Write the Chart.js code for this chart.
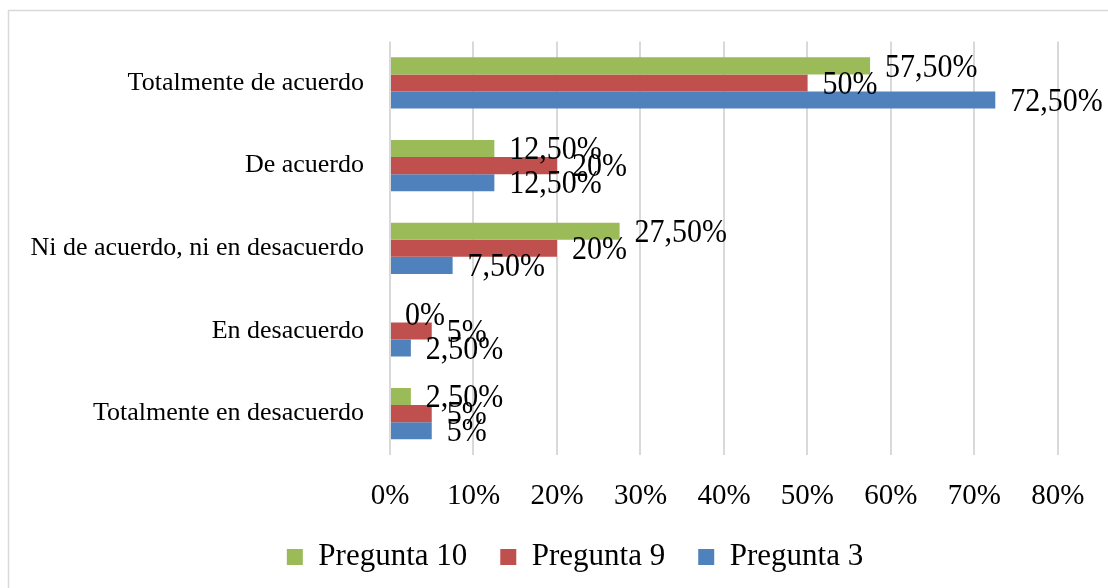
<!DOCTYPE html>
<html>
<head>
<meta charset="utf-8">
<script src="https://cdn.jsdelivr.net/npm/chart.js"></script>
<style>
  html, body { margin: 0; padding: 0; background: #fff; }
  #wrap { width: 1108px; height: 588px; position: relative; }
</style>
</head>
<body>
<div id="wrap"><canvas id="chart"></canvas></div>
<script>
const categories = ['Totalmente de acuerdo', 'De acuerdo', 'Ni de acuerdo, ni en desacuerdo', 'En desacuerdo', 'Totalmente en desacuerdo'];
const pregunta10 = [57.5, 12.5, 27.5, 0, 2.5];
const pregunta9 = [50, 20, 20, 5, 5];
const pregunta3 = [72.5, 12.5, 7.5, 2.5, 5];
const seriesNames = ['Pregunta 10', 'Pregunta 9', 'Pregunta 3'];
const xMax = 80;
const xStep = 10;

const serif = '"Liberation Serif", "Times New Roman", serif';

function fmt(v) {
    return (Number.isInteger(v) ? v : v.toFixed(2).replace('.', ',')) + '%';
}

// frame round the whole chart, legend nudged to the centre of the frame
const framePlugin = {
    id: 'frame',
    afterLayout(chart) {
        chart.legend.left += 45;
        chart.legend.right += 45;
    },
    beforeDraw(chart) {
        const c = chart.ctx;
        c.save();
        c.fillStyle = '#fff';
        c.fillRect(0, 0, chart.width, chart.height);
        c.strokeStyle = '#d9d9d9';
        c.lineWidth = 1.5;
        c.strokeRect(8.5, 10.5, 1200, 700);
        c.restore();
    }
};

// value labels at the end of each bar
const valueLabels = {
    id: 'valueLabels',
    afterDatasetsDraw(chart) {
        const c = chart.ctx;
        chart.data.datasets.forEach((ds, i) => {
            chart.getDatasetMeta(i).data.forEach((bar, j) => {
                c.save();
                c.font = '30px ' + serif;
                c.fillStyle = '#000';
                c.textAlign = 'left';
                c.textBaseline = 'middle';
                c.translate(bar.x + 15, bar.y + 2);
                c.scale(1, 1.1);
                c.fillText(fmt(ds.data[j]), 0, 0);
                c.restore();
            });
        });
    }
};

const ctx = document.getElementById('chart');

new Chart(ctx, {
    type: 'bar',
    data: {
        labels: categories,
        datasets: [
            { label: seriesNames[0], data: pregunta10, backgroundColor: '#9bbb59' },
            { label: seriesNames[1], data: pregunta9, backgroundColor: '#c0504d' },
            { label: seriesNames[2], data: pregunta3, backgroundColor: '#4f81bd' }
        ]
    },
    options: {
        indexAxis: 'y',
        responsive: true,
        maintainAspectRatio: false,
        animation: false,
        categoryPercentage: 0.62,
        barPercentage: 1,
        layout: {
            padding: { top: 40, right: 48, bottom: 5.5, left: 0 }
        },
        scales: {
            x: {
                min: 0,
                max: xMax,
                ticks: {
                    stepSize: xStep,
                    padding: 23.5,
                    color: '#000',
                    font: { family: serif, size: 29 },
                    callback: v => v + '%'
                },
                grid: { color: '#d9d9d9', lineWidth: 2, drawTicks: false },
                border: { display: false },
                afterFit: s => { s.height = 53.5; }
            },
            y: {
                ticks: {
                    padding: 26,
                    color: '#000',
                    font: { family: serif, size: 26 }
                },
                grid: { display: false, drawTicks: false },
                border: { display: false },
                afterFit: s => { s.width = 390; }
            }
        },
        plugins: {
            legend: {
                position: 'bottom',
                labels: {
                    boxWidth: 16,
                    boxHeight: 16,
                    padding: 33,
                    color: '#000',
                    font: { family: serif, size: 31 }
                }
            },
            tooltip: { enabled: false }
        }
    },
    plugins: [framePlugin, valueLabels]
});
</script>
</body>
</html>
